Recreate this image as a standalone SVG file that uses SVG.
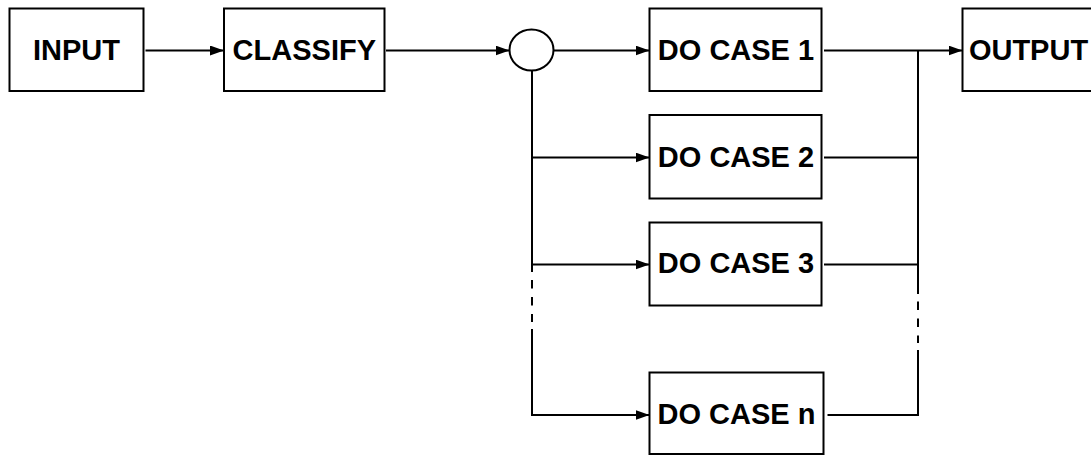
<svg xmlns="http://www.w3.org/2000/svg" width="1091" height="455" viewBox="0 0 1091 455">
  <style>
    .box { fill: #fff; stroke: #000; stroke-width: 2; }
    .lbl { font-family: "Liberation Sans", Arial, sans-serif; font-weight: bold; font-size: 29px; fill: #000; text-anchor: middle; }
    .wire { fill: none; stroke: #000; stroke-width: 2; }
    .arrow { marker-end: url(#head); }
    .dash { stroke-dasharray: 8.5 8.5; }
  </style>
  <defs>
    <marker id="head" viewBox="0 0 14 10" refX="14" refY="5" markerWidth="14" markerHeight="10" markerUnits="userSpaceOnUse" orient="auto">
      <path d="M0,0 L14,5 L0,10 Z" fill="#000"/>
    </marker>
  </defs>
  <rect width="1091" height="455" fill="#fff"/>

  <g id="connectors">
    <path class="wire arrow" d="M145.5,50.5 H224"/>
    <path class="wire arrow" d="M386,50.5 H509.5"/>
    <path class="wire arrow" d="M553.5,50.5 H649.5"/>
    <path class="wire arrow" d="M824,50.5 H962.5"/>
    <!-- fan-out bus from the junction -->
    <path class="wire" d="M532,70.5 V272"/>
    <path class="wire dash" d="M532,280 V322"/>
    <path class="wire arrow" d="M532,329 V415 H649.5"/>
    <path class="wire arrow" d="M532,157.5 H649.5"/>
    <path class="wire arrow" d="M532,264.5 H649.5"/>
    <!-- merge bus into the output -->
    <path class="wire" d="M918,50.5 V294"/>
    <path class="wire dash" d="M918,301.5 V343"/>
    <path class="wire" d="M827.5,415 H918 V350"/>
    <path class="wire" d="M824,157.5 H919"/>
    <path class="wire" d="M824,264.5 H919"/>
  </g>

  <g id="input">
    <rect class="box" x="9.5" y="8.5" width="134" height="82.5"/>
    <text class="lbl" x="76.5" y="60">INPUT</text>
  </g>
  <g id="classify">
    <rect class="box" x="224" y="8.5" width="160.5" height="82.5"/>
    <text class="lbl" x="304.3" y="60">CLASSIFY</text>
  </g>
  <g id="junction">
    <ellipse class="box" cx="531.5" cy="50" rx="22" ry="20.5"/>
  </g>
  <g id="case1">
    <rect class="box" x="649.5" y="8.5" width="172" height="82.5"/>
    <text class="lbl" x="736" y="60">DO CASE 1</text>
  </g>
  <g id="case2">
    <rect class="box" x="649.5" y="115" width="172" height="83.5"/>
    <text class="lbl" x="736" y="166.7">DO CASE 2</text>
  </g>
  <g id="case3">
    <rect class="box" x="649.5" y="222.5" width="172" height="83"/>
    <text class="lbl" x="736" y="273.3">DO CASE 3</text>
  </g>
  <g id="casen">
    <rect class="box" x="649.5" y="372.5" width="174" height="81.5"/>
    <text class="lbl" x="736.5" y="424">DO CASE n</text>
  </g>
  <g id="output">
    <rect class="box" x="962.5" y="8.5" width="140" height="82.5"/>
    <text class="lbl" x="1028.5" y="60">OUTPUT</text>
  </g>
</svg>
